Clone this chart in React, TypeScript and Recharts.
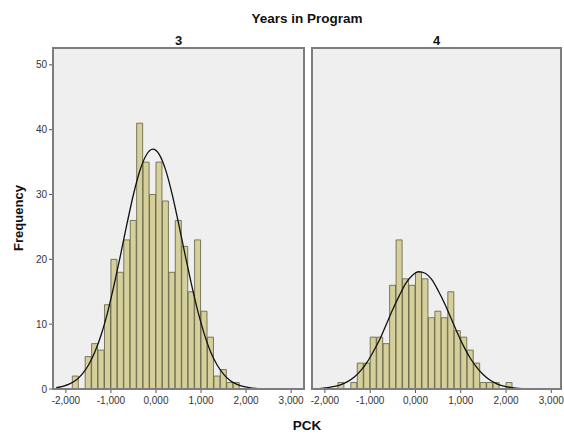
import { Bar, CartesianGrid, ComposedChart, Line, XAxis, YAxis } from 'recharts';

// bin centres of PCK (bin width 1000/7)
const binCenters = [
  -2214.3, -2071.4, -1928.6, -1785.7, -1642.9, -1500, -1357.1, -1214.3, -1071.4, -928.6,
  -785.7, -642.9, -500, -357.1, -214.3, -71.4, 71.4, 214.3, 357.1, 500,
  642.9, 785.7, 928.6, 1071.4, 1214.3, 1357.1, 1500, 1642.9, 1785.7, 1928.6,
  2071.4, 2214.3, 2357.1, 2500, 2642.9, 2785.7, 2928.6, 3071.4, 3214.3,
];

const countsYear3 = [
  0, 0, 0, 2, 0, 5, 7, 6, 13, 20,
  18, 23, 26, 41, 35, 30, 35, 29, 18, 26,
  22, 15, 23, 12, 8, 2, 3, 1, 1, 0,
  0, 0, 0, 0, 0, 0, 0, 0, 0,
];
const curveYear3 = [
  0.2, 0.4, 0.74, 1.3, 2.26, 3.66, 5.7, 8.4, 11.9, 16.1,
  20.7, 25.5, 30.0, 33.7, 36.1, 37.0, 36.2, 33.8, 30.1, 25.6,
  20.8, 16.2, 12.0, 8.5, 5.7, 3.7, 2.3, 1.3, 0.75, 0.4,
  0.21, 0.1, 0.05, 0.02, 0.01, 0, 0, 0, 0,
];

const countsYear4 = [
  0, 0, 0, 0, 1, 0, 1, 4, 4, 8,
  8, 7, 16, 23, 17, 16, 18, 17, 11, 12,
  11, 15, 9, 8, 6, 4, 1, 1, 1, 0,
  1, 0, 0, 0, 0, 0, 0, 0, 0,
];
const curveYear4 = [
  0.06, 0.11, 0.21, 0.39, 0.68, 1.14, 1.82, 2.8, 4.1, 5.8,
  7.7, 10.0, 12.3, 14.4, 16.3, 17.5, 18.1, 17.85, 16.9, 15.2,
  13.2, 10.9, 8.6, 6.5, 4.7, 3.3, 2.2, 1.38, 0.84, 0.49,
  0.27, 0.14, 0.07, 0.03, 0.01, 0, 0, 0, 0,
];

const xTicks = [-2000, -1000, 0, 1000, 2000, 3000];
const yTicks = [0, 10, 20, 30, 40, 50];

const rows = (counts: number[], curve: number[]) =>
  binCenters.map((x, i) => ({ x, count: counts[i], curve: curve[i] }));

const font = 'Arial, "Liberation Sans", sans-serif';
const barFill = '#d4cf9b';
const barStroke = '#5f5d3f';
const fmt = (v: number) => (v < 0 ? '-' : '') + Math.abs(v / 1000) + ',000';

function Panel({ data, domain, showY, margin, width }: any) {
  return (
    <ComposedChart
      width={width}
      height={434}
      data={data}
      margin={margin}
      barCategoryGap={0}
      barGap={0}
    >
      <CartesianGrid fill="#efefef" horizontal={false} vertical={false} />
      <XAxis
        dataKey="x"
        type="number"
        domain={domain}
        allowDataOverflow
        ticks={xTicks}
        interval={0}
        tickFormatter={fmt}
        height={30}
        tickSize={4}
        tickMargin={4}
        axisLine={false}
        tickLine={{ stroke: '#555' }}
        tick={{ fontSize: 10, fill: '#333', fontFamily: font }}
      />
      <YAxis
        hide={!showY}
        domain={[0, 52.6]}
        allowDataOverflow
        ticks={yTicks}
        width={53}
        tickSize={4}
        tickMargin={2}
        axisLine={false}
        tickLine={{ stroke: '#555' }}
        tick={{ fontSize: 10, fill: '#333', fontFamily: font }}
      />
      <Bar dataKey="count" fill={barFill} stroke={barStroke} strokeWidth={0.8} isAnimationActive={false} />
      <Line
        dataKey="curve"
        type="monotone"
        stroke="#111"
        strokeWidth={1.3}
        dot={false}
        activeDot={false}
        isAnimationActive={false}
      />
    </ComposedChart>
  );
}

export default function App() {
  const frame = {
    position: 'absolute' as const,
    top: 47,
    height: 343,
    border: '2px solid #7d7d7d',
    boxSizing: 'border-box' as const,
    pointerEvents: 'none' as const,
  };
  return (
    <div style={{ position: 'absolute', left: 0, top: 0, width: 564, height: 434, background: '#fff' }}>
      <div style={{ position: 'absolute', left: 0, top: 0 }}>
        <Panel
          data={rows(countsYear3, curveYear3)}
          domain={[-2285.7, 3285.7]}
          showY
          width={308}
          margin={{ top: 48, right: 4, bottom: 15, left: 0 }}
        />
      </div>
      <div style={{ position: 'absolute', left: 300, top: 0 }}>
        <Panel
          data={rows(countsYear4, curveYear4)}
          domain={[-2285.7, 3214.3]}
          showY={false}
          width={264}
          margin={{ top: 48, right: 3, bottom: 15, left: 12 }}
        />
      </div>
      <div style={{ ...frame, left: 52, width: 253 }} />
      <div style={{ ...frame, left: 311, width: 251 }} />
      <svg
        width={564}
        height={434}
        style={{ position: 'absolute', left: 0, top: 0, pointerEvents: 'none' }}
        fontFamily={font}
        fontWeight="bold"
        fill="#111"
      >
        <text x={307} y={23} fontSize={13.5} textAnchor="middle">Years in Program</text>
        <text x={178.5} y={44.5} fontSize={13} textAnchor="middle">3</text>
        <text x={436.5} y={44.5} fontSize={13} textAnchor="middle">4</text>
        <text x={23} y={218} fontSize={13} textAnchor="middle" transform="rotate(-90 23 218)">
          Frequency
        </text>
        <text x={307} y={430} fontSize={13.5} textAnchor="middle">PCK</text>
      </svg>
    </div>
  );
}
